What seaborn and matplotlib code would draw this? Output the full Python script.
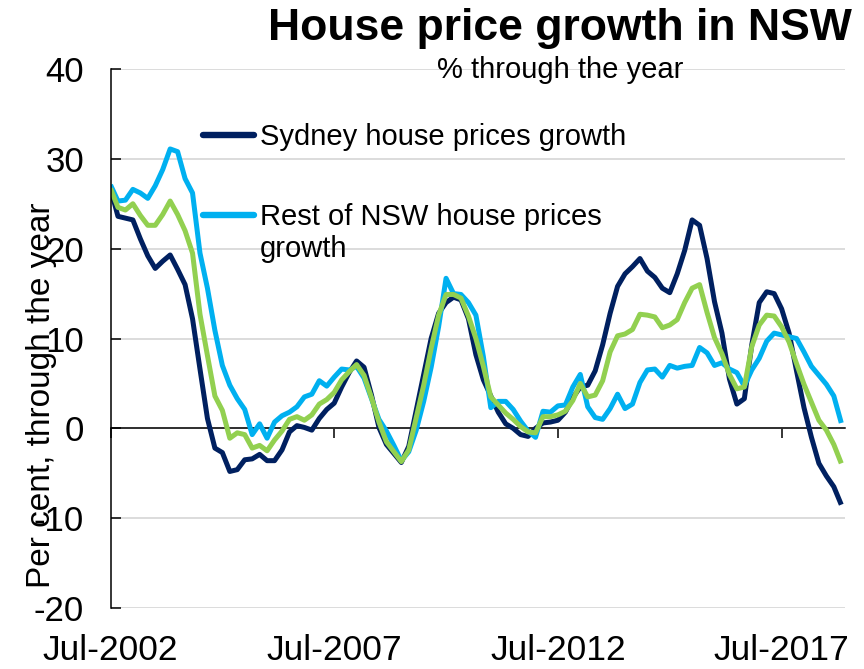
import numpy as np
import pandas as pd
import matplotlib
matplotlib.use("Agg")
import matplotlib.pyplot as plt
import seaborn as sns
from matplotlib.legend_handler import HandlerLine2D
from matplotlib.lines import Line2D

# ---------------- data (bi-monthly readings, month index from Jul-2002) ----------------
month_index = list(range(0, 197, 2))
tick_positions = [0, 60, 120, 180]
tick_labels = ["Jul-2002", "Jul-2007", "Jul-2012", "Jul-2017"]

sydney = [26.7, 23.6, 23.4, 23.2, 21.1, 19.2, 17.8, 18.6, 19.3, 17.7,
          16.0, 12.2, 6.6, 1.1, -2.2, -2.7, -4.8, -4.6, -3.5, -3.4,
          -2.9, -3.6, -3.6, -2.4, -0.4, 0.3, 0.1, -0.2, 1.1, 2.1,
          2.8, 4.6, 6.2, 7.5, 6.8, 3.7, 0.1, -1.8, -2.8, -3.8,
          -2.0, 2.0, 6.0, 10.0, 12.8, 14.0, 14.6, 14.3, 12.2, 8.2,
          5.4, 3.6, 1.8, 0.5, 0.0, -0.7, -0.9, 0.0, 0.6, 0.7,
          0.9, 1.8, 3.4, 4.6, 4.8, 6.4, 9.3, 12.8, 15.8, 17.2,
          18.0, 18.9, 17.5, 16.8, 15.6, 15.1, 17.2, 19.8, 23.2, 22.6,
          18.9, 14.1, 10.6, 5.5, 2.7, 3.3, 9.3, 14.0, 15.2, 15.0,
          13.3, 10.6, 6.4, 2.3, -1.0, -3.9, -5.3, -6.5, -8.5]

rest_nsw = [27.1, 25.3, 25.4, 26.6, 26.2, 25.6, 27.0, 28.8, 31.1, 30.8,
            27.8, 26.2, 19.5, 15.6, 10.9, 7.0, 4.8, 3.3, 2.1, -0.7,
            0.5, -1.1, 0.7, 1.4, 1.8, 2.4, 3.5, 3.8, 5.3, 4.7,
            5.7, 6.6, 6.5, 6.9, 5.6, 3.3, 1.0, -0.3, -1.9, -3.6,
            -2.6, -0.2, 3.0, 6.8, 11.3, 16.7, 15.0, 14.9, 14.0, 12.6,
            8.0, 2.3, 3.0, 3.0, 2.1, 0.8, -0.3, -1.0, 1.9, 1.8,
            2.5, 2.6, 4.6, 6.0, 2.4, 1.2, 1.0, 2.2, 3.8, 2.2,
            2.7, 5.1, 6.5, 6.6, 5.7, 7.0, 6.7, 6.9, 7.0, 9.0,
            8.4, 7.0, 7.3, 6.6, 6.2, 4.7, 6.5, 7.8, 9.7, 10.6,
            10.4, 10.2, 10.0, 8.5, 6.9, 5.9, 4.9, 3.6, 0.6]

nsw = [26.7, 24.6, 24.3, 25.0, 23.7, 22.6, 22.6, 23.8, 25.3, 23.8,
       22.0, 19.5, 12.7, 8.1, 3.6, 2.0, -1.1, -0.5, -0.7, -2.2,
       -1.9, -2.5, -1.3, -0.3, 1.0, 1.3, 0.9, 1.5, 2.7, 3.2,
       4.0, 5.4, 6.3, 7.1, 5.9, 3.4, 0.7, -1.5, -2.6, -3.7,
       -2.4, 1.2, 4.8, 8.9, 12.6, 14.9, 14.9, 14.5, 12.5, 10.0,
       6.9, 3.5, 2.6, 1.7, 1.0, 0.2, -0.4, -0.5, 1.3, 1.3,
       1.5, 1.9, 3.1, 5.0, 3.5, 3.7, 5.3, 8.5, 10.3, 10.5,
       11.0, 12.7, 12.6, 12.4, 11.2, 11.5, 12.1, 14.0, 15.6, 16.0,
       12.9, 10.1, 8.3, 6.0, 4.4, 4.6, 9.1, 11.5, 12.6, 12.5,
       11.3, 9.6, 7.2, 4.9, 2.9, 0.9, -0.2, -1.8, -3.9]

series_names = ["Sydney house prices growth",
                "Rest of NSW house prices growth",
                "NSW house prices growth"]
colors = ["#002060", "#00B0F0", "#92D050"]

df = pd.concat([
    pd.DataFrame({"month": month_index, "value": vals, "series": name})
    for name, vals in zip(series_names, [sydney, rest_nsw, nsw])
], ignore_index=True)

# ---------------- style ----------------
sns.set_style("white")
plt.rcParams["font.family"] = ["Liberation Sans", "DejaVu Sans"]
plt.rcParams["axes.unicode_minus"] = False
plt.rcParams["text.color"] = "black"
plt.rcParams["xtick.color"] = "black"
plt.rcParams["ytick.color"] = "black"
plt.rcParams["xtick.labelcolor"] = "black"
plt.rcParams["ytick.labelcolor"] = "black"

W, H = 864, 669
fig = plt.figure(figsize=(W / 100, H / 100), dpi=100)
ax_l, ax_r, ax_t, ax_b = 110.5, 845, 69, 608
ax = fig.add_axes([ax_l / W, 1 - ax_b / H, (ax_r - ax_l) / W, (ax_b - ax_t) / H])

sns.lineplot(data=df, x="month", y="value", hue="series", hue_order=series_names,
             palette=dict(zip(series_names, colors)), linewidth=3.6,
             estimator=None, sort=False, legend=False, ax=ax)
for ln in ax.lines:
    ln.set_solid_joinstyle("round")
    ln.set_solid_capstyle("butt")

ax.set_xlim(0, 197)
ax.set_ylim(-20, 40)
ax.set_yticks(range(-20, 41, 10))
ax.grid(axis="y", color="#d9d9d9", linewidth=1.3)
ax.grid(axis="x", visible=False)
ax.set_axisbelow(True)

for s in ["top", "right"]:
    ax.spines[s].set_visible(False)
ax.spines["left"].set_color("black")
ax.spines["left"].set_linewidth(1.1)
ax.spines["bottom"].set_position(("data", 0))
ax.spines["bottom"].set_color("black")
ax.spines["bottom"].set_linewidth(1.1)
ax.spines["bottom"].set_zorder(1.5)

ax.set_xticks(tick_positions)
ax.set_xticklabels([])
ax.tick_params(axis="x", direction="out", length=7, width=1.1, color="black", bottom=True)
ax.tick_params(axis="y", direction="in", length=7, width=1.1, color="black",
               labelsize=25, pad=19, left=True, labelcolor="black")
ax.set_xlabel("")
ax.set_ylabel("")

sec = ax.secondary_xaxis("bottom")
sec.set_xticks(tick_positions, labels=tick_labels)
sec.tick_params(length=0, pad=19, labelsize=25.5, labelcolor="black")
sec.spines["bottom"].set_visible(False)

# ---------------- legend ----------------
class RaisedHandler(HandlerLine2D):
    def __init__(self, shift, **kw):
        super().__init__(**kw)
        self.shift = shift

    def create_artists(self, legend, orig_handle, xdescent, ydescent, width,
                       height, fontsize, trans):
        arts = super().create_artists(legend, orig_handle, xdescent, ydescent,
                                      width, height, fontsize, trans)
        for a in arts:
            a.set_ydata(np.asarray(a.get_ydata(), float) + self.shift)
        return arts

h_syd = Line2D([], [], color=colors[0], lw=4.6, solid_capstyle="round")
h_rest = Line2D([], [], color=colors[1], lw=4.6, solid_capstyle="round")
common = dict(loc="center left", bbox_transform=fig.transFigure, frameon=False,
              fontsize=21, handlelength=1.75, handletextpad=0.2, borderpad=0,
              borderaxespad=0, labelcolor="black")
leg1 = ax.legend([h_syd], ["Sydney house prices growth"],
                 bbox_to_anchor=(203 / W, 1 - 137 / H), **common)
ax.add_artist(leg1)
leg2 = ax.legend([h_rest], ["Rest of NSW house prices\ngrowth"],
                 bbox_to_anchor=(203 / W, 1 - 233 / H),
                 handler_map={h_rest: RaisedHandler(13.7)}, **common)

# ---------------- titles ----------------
fig.text(560 / W, 1 - 40 / H, "House price growth in NSW", ha="center", va="baseline",
         fontsize=32, fontweight="bold", color="black")
fig.text(560 / W, 1 - 78 / H, "% through the year", ha="center", va="baseline",
         fontsize=21, color="black")
fig.text(42 / W, 1 - 395 / H, "Per cent, through the year", rotation=90,
         ha="center", va="center", fontsize=24, color="black")

fig.savefig("out.png", dpi=100)
